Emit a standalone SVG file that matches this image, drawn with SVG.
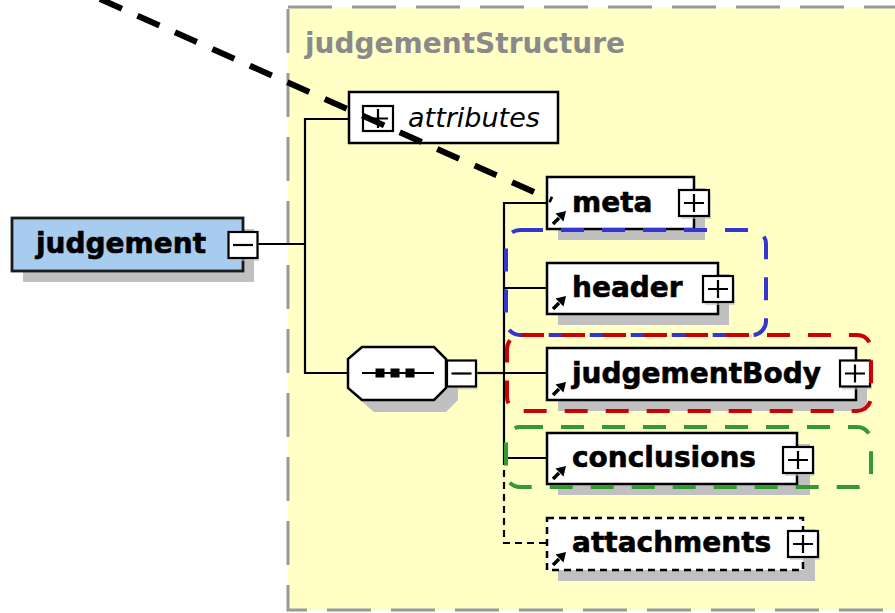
<svg xmlns="http://www.w3.org/2000/svg" width="895" height="613" viewBox="0 0 895 613">
  <style>
    .lbl { font-family: "DejaVu Sans", Verdana, sans-serif; font-weight: bold; font-size: 28px; fill: #000; stroke: #000; stroke-width: 0.6; }
    .attr { font-family: "DejaVu Sans", Verdana, sans-serif; font-style: italic; font-size: 27px; fill: #000; }
    .title { font-family: "DejaVu Sans", Verdana, sans-serif; font-weight: bold; font-size: 28px; fill: #8a8a8a; }
    .box { fill: #fff; stroke: #000; stroke-width: 2.5; }
    .box-opt { fill: #fff; stroke: #000; stroke-width: 2.5; stroke-dasharray: 7 5; }
    .shadow { fill: #c0c0c0; }
    .conn { fill: none; stroke: #000; stroke-width: 2.2; }
    .conn-opt { fill: none; stroke: #000; stroke-width: 2.2; stroke-dasharray: 7 5; }
    .btn { fill: #fff; stroke: #000; stroke-width: 2.2; }
    .sign { stroke: #000; stroke-width: 2.2; fill: none; }
    .hl { fill: none; stroke-width: 4; stroke-dasharray: 23 18; }
  </style>
  <defs>
    <!-- reference arrow drawn at the bottom-left corner of an element box -->
    <g id="refArrow">
      <path d="M6 -5 L12 -11" stroke="#000" stroke-width="3.5" fill="none"/>
      <polygon points="19,-18 8.5,-15.5 16.5,-7.5" fill="#000"/>
    </g>
    <!-- expand button (+), centred on the origin -->
    <g id="plusBtn">
      <rect x="-13" y="-10" width="30" height="26" class="shadow" opacity="0.6"/>
      <rect x="-15" y="-13" width="30" height="26" class="btn"/>
      <path d="M-10 0 H10 M0 -9 V9" class="sign"/>
    </g>
    <!-- collapse button (-), centred on the origin -->
    <g id="minusBtn">
      <rect x="-13" y="-10" width="29" height="26" class="shadow" opacity="0.6"/>
      <rect x="-14.5" y="-13" width="29" height="26" class="btn"/>
      <path d="M-10 0 H10" class="sign"/>
    </g>
  </defs>

  <rect x="0" y="0" width="895" height="613" fill="#fff"/>

  <!-- complex type container -->
  <g id="judgementStructure">
    <rect x="288" y="7" width="700" height="603" fill="#ffffc6" stroke="#999" stroke-width="3" stroke-dasharray="44 20"/>
    <text x="305" y="53" class="title">judgementStructure</text>
  </g>

  <!-- connectors -->
  <g id="connectors">
    <path d="M257 244 H305" class="conn"/>
    <path d="M348 119 H305 V373 H350" class="conn"/>
    <path d="M476 373 H504" class="conn"/>
    <path d="M547 203 H504 V458 H547" class="conn"/>
    <path d="M504 288 H547 M504 373 H547" class="conn"/>
    <path d="M504 458 V543 H547" class="conn-opt"/>
  </g>

  <!-- root element -->
  <g id="judgement">
    <rect x="23" y="229" width="231" height="53" class="shadow"/>
    <rect x="12" y="218" width="231" height="53" fill="#a8ccf0" stroke="#1a1a1a" stroke-width="2.8"/>
    <text x="36" y="253" class="lbl">judgement</text>
    <use href="#minusBtn" x="243" y="245"/>
  </g>

  <!-- attribute group -->
  <g id="attributes">
    <rect x="349" y="92" width="209" height="51" class="box"/>
    <rect x="363" y="106" width="30" height="25" class="btn"/>
    <path d="M368 118.5 H388 M378 109 V128" class="sign"/>
    <text x="408" y="127" class="attr">attributes</text>
  </g>

  <!-- sequence compositor -->
  <g id="sequence">
    <polygon points="374,359 446,359 458,371 458,400 446,412 374,412 360,400 360,371" class="shadow"/>
    <polygon points="362,347 434,347 446,359 446,388 434,400 362,400 348,388 348,359" class="box"/>
    <path d="M362 373 H434" class="sign"/>
    <rect x="375.5" y="368.5" width="9" height="9" fill="#000"/>
    <rect x="390.5" y="368.5" width="9" height="9" fill="#000"/>
    <rect x="405.5" y="368.5" width="9" height="9" fill="#000"/>
    <use href="#minusBtn" x="461.5" y="373.5"/>
  </g>

  <g id="meta">
    <rect x="558" y="188" width="147" height="52" class="shadow"/>
    <rect x="547" y="177" width="147" height="52" class="box"/>
    <text x="572" y="212" class="lbl">meta</text>
    <use href="#refArrow" x="547" y="229"/>
    <use href="#plusBtn" x="694" y="203"/>
  </g>

  <g id="header">
    <rect x="558" y="274" width="171" height="51" class="shadow"/>
    <rect x="547" y="263" width="171" height="51" class="box"/>
    <text x="572" y="297" class="lbl">header</text>
    <use href="#refArrow" x="547" y="314"/>
    <use href="#plusBtn" x="718" y="289"/>
  </g>

  <g id="judgementBody">
    <rect x="558" y="359" width="309" height="52" class="shadow"/>
    <rect x="547" y="348" width="309" height="52" class="box"/>
    <text x="572" y="383" class="lbl">judgementBody</text>
    <use href="#refArrow" x="547" y="400"/>
    <use href="#plusBtn" x="855" y="373.5"/>
  </g>

  <g id="conclusions">
    <rect x="558" y="444" width="252" height="51" class="shadow"/>
    <rect x="547" y="433" width="250" height="51" class="box"/>
    <text x="572" y="467" class="lbl">conclusions</text>
    <use href="#refArrow" x="547" y="484"/>
    <use href="#plusBtn" x="798" y="460"/>
  </g>

  <g id="attachments">
    <rect x="558" y="529" width="257" height="52" class="shadow"/>
    <rect x="547" y="518" width="256" height="52" class="box-opt"/>
    <text x="572" y="552" class="lbl">attachments</text>
    <use href="#refArrow" x="547" y="570"/>
    <use href="#plusBtn" x="803" y="544"/>
  </g>

  <!-- highlighted regions -->
  <g id="highlights">
    <rect x="506" y="230" width="260" height="105" rx="14" class="hl" stroke="#3535d0"/>
    <rect x="507" y="335" width="364" height="76" rx="14" class="hl" stroke="#cc0000"/>
    <rect x="506" y="427" width="365" height="60" rx="14" class="hl" stroke="#339933"/>
  </g>

  <!-- pointer line -->
  <g id="pointer">
    <path d="M100 -1 L552 200" fill="none" stroke="#000" stroke-width="6" stroke-dasharray="24 17"/>
  </g>
</svg>
